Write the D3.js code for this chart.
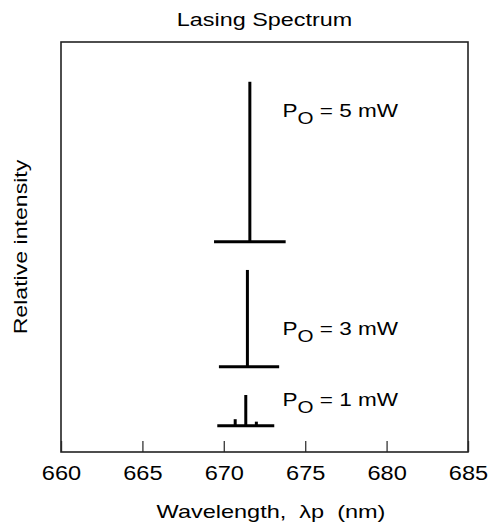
<!DOCTYPE html>
<html>
<head>
<meta charset="utf-8">
<script src="https://cdn.jsdelivr.net/npm/d3@7"></script>
<style>
  body { margin: 0; background: #fff; }
  svg text { font-family: "Liberation Sans", Arial, sans-serif; fill: #000; }
</style>
</head>
<body>
<div id="chart"></div>
<script>
// series, top to bottom
const powers = [5, 3, 1];
// baseline level of each trace (relative intensity units, 0-100 axis)
const baselines = [51.3, 20.8, 6.4];
// wavelength span of each baseline (nm)
const spanStart = [669.4, 669.7, 669.6];
const spanEnd = [673.8, 673.4, 673.1];
// lines per trace: wavelength (nm) and height above baseline
const peakWl = [[671.6], [671.45], [670.7, 671.35, 672.0]];
const peakHt = [[39.0], [23.6], [1.6, 7.5, 1.0]];
// annotation anchors (data units)
const labelWl = 673.6;
const labelLevel = [81.8, 28.6, 11.1];

const xTicks = [660, 665, 670, 675, 680, 685];

const width = 495, height = 529;
const margin = { top: 42, right: 27, bottom: 77, left: 61 };
// the original lettering is wide, so stretch it horizontally
const stretch = 1.25;

const svg = d3.select('#chart').append('svg')
    .attr('width', width)
    .attr('height', height);

const x = d3.scaleLinear()
    .domain([660, 685])
    .range([margin.left, width - margin.right]);

const y = d3.scaleLinear()
    .domain([0, 100])
    .range([height - margin.bottom, margin.top]);

// ticks point inward from the bottom edge
svg.append('g')
    .attr('transform', `translate(0,${height - margin.bottom})`)
    .call(d3.axisBottom(x).tickValues(xTicks).tickSize(-11).tickPadding(13).tickFormat(d3.format('d')))
    .call((g) => g.select('.domain').remove())
    .call((g) => g.selectAll('.tick line').attr('stroke', '#444').attr('stroke-width', 1.4))
    .call((g) => g.selectAll('.tick text')
        .attr('font-size', 20.5)
        .attr('transform', 'scale(1.15,1)')
        .attr('font-family', '"Liberation Sans", Arial, sans-serif')
        .attr('fill', '#000'));

// frame
svg.append('rect')
    .attr('x', x(660))
    .attr('y', y(100))
    .attr('width', x(685) - x(660))
    .attr('height', y(0) - y(100))
    .attr('fill', 'none')
    .attr('stroke', '#222')
    .attr('stroke-width', 1.6);

// traces
const traces = svg.append('g')
    .attr('stroke', '#000')
    .attr('stroke-width', 3)
    .attr('fill', 'none');

powers.forEach((p, i) => {
  traces.append('line')
      .attr('x1', x(spanStart[i]))
      .attr('x2', x(spanEnd[i]))
      .attr('y1', y(baselines[i]))
      .attr('y2', y(baselines[i]));

  traces.selectAll(null)
      .data(peakWl[i].map((w, j) => ({ w, h: peakHt[i][j] })))
    .enter().append('line')
      .attr('x1', (d) => x(d.w))
      .attr('x2', (d) => x(d.w))
      .attr('y1', y(baselines[i]))
      .attr('y2', (d) => y(baselines[i] + d.h));

  const t = svg.append('text')
      .attr('transform', `translate(${x(labelWl)},${y(labelLevel[i])}) scale(${stretch * 0.97},1)`)
      .attr('font-size', 18.6);
  t.append('tspan').text('P');
  t.append('tspan').attr('font-size', 17).attr('dy', 7).text('O');
  t.append('tspan').attr('dy', -7).text(` = ${p} mW`);
});

// title and axis labels
svg.append('text')
    .attr('transform', `translate(264.5,25.7) scale(${stretch},1)`)
    .attr('text-anchor', 'middle')
    .attr('font-size', 18.7)
    .text('Lasing Spectrum');

svg.append('text')
    .attr('transform', `translate(26.5,${(y(0) + y(100)) / 2}) rotate(-90) scale(1.23,1)`)
    .attr('text-anchor', 'middle')
    .attr('font-size', 18.8)
    .text('Relative intensity');

svg.append('text')
    .attr('transform', `translate(271,518) scale(${stretch},1)`)
    .attr('text-anchor', 'middle')
    .attr('font-size', 18.8)
    .attr('xml:space', 'preserve')
    .text('Wavelength,  λp  (nm)');
</script>
</body>
</html>
